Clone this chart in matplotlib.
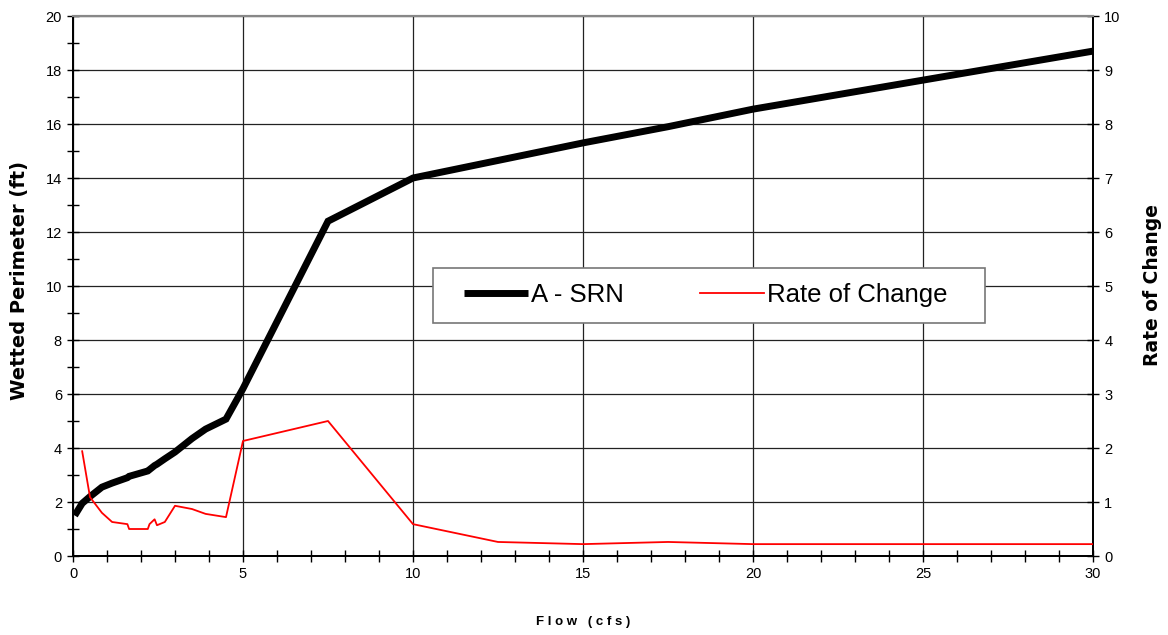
import numpy as np
import matplotlib.pyplot as plt
from matplotlib.ticker import MultipleLocator
from matplotlib.patches import Rectangle

# wetted perimeter curve
flow = [0.05, 0.27, 0.5, 0.85, 1.15, 1.6, 1.65, 2.2, 2.25, 2.4, 2.47, 2.7,
        3.0, 3.5, 3.9, 4.5, 5.0, 7.5, 10, 12.5, 15, 17.5, 20, 30]
perimeter = [1.5, 1.95, 2.2, 2.55, 2.7, 2.9, 2.95, 3.15, 3.2, 3.35, 3.4, 3.6,
             3.85, 4.35, 4.7, 5.07, 6.2, 12.4, 14.0, 14.65, 15.3, 15.9, 16.55, 18.7]

# rate of change (right axis)
rate_flow = [0.27, 0.5, 0.85, 1.15, 1.6, 1.65, 2.2, 2.25, 2.4, 2.47, 2.7,
             3.0, 3.5, 3.9, 4.5, 5.0, 7.5, 10, 12.5, 15, 17.5, 20, 30]
rate = [1.94, 1.09, 0.8, 0.63, 0.59, 0.5, 0.5, 0.59, 0.68, 0.57, 0.63,
        0.93, 0.87, 0.78, 0.72, 2.13, 2.5, 0.59, 0.26, 0.22, 0.26, 0.22, 0.22]

plt.rcParams['font.family'] = ['Liberation Sans', 'DejaVu Sans']

fig = plt.figure(figsize=(11.68, 6.35), dpi=100)
ax = fig.add_axes([0.0625, 0.1244, 0.8733, 0.8504])
ax2 = ax.twinx()

l1, = ax.plot(flow, perimeter, color='black', lw=5, solid_capstyle='butt',
              solid_joinstyle='miter', zorder=3, label='A - SRN')
l2, = ax2.plot(rate_flow, rate, color='red', lw=1.3, zorder=3, label='Rate of Change')

ax.set_xlim(0, 30)
ax.set_ylim(0, 20)
ax2.set_ylim(0, 10)

ax.xaxis.set_major_locator(MultipleLocator(5))
ax.xaxis.set_minor_locator(MultipleLocator(1))
ax.yaxis.set_major_locator(MultipleLocator(2))
ax.yaxis.set_minor_locator(MultipleLocator(1))
ax2.yaxis.set_major_locator(MultipleLocator(1))

ax.grid(True, which='major', color='#222222', lw=0.9)
ax.set_axisbelow(True)

ax.tick_params(axis='both', which='both', direction='inout', labelsize=10.5,
               colors='black', width=1)
ax.tick_params(axis='both', which='major', length=9)
ax.tick_params(axis='both', which='minor', length=8)
ax2.tick_params(axis='y', direction='inout', length=9, width=1, labelsize=10.5)

for a in (ax, ax2):
    a.spines['top'].set_color('#888888')
    a.spines['top'].set_linewidth(1.5)
    for s in ('left', 'right', 'bottom'):
        a.spines[s].set_linewidth(1.3)

ax.set_xlabel('F l o w   ( c f s )', fontsize=9.5, fontweight='bold', labelpad=25)
ax.set_ylabel('Wetted Perimeter (ft)', family='DejaVu Sans', fontsize=14,
              fontweight='heavy')
ax.yaxis.set_label_coords(-0.0435, 0.511)
ax2.set_ylabel('Rate of Change', family='DejaVu Sans', fontsize=13.5,
               fontweight='heavy', rotation=90)
ax2.yaxis.set_label_coords(1.049, 0.502)

# legend box drawn separately, legend entries placed inside it
box = Rectangle((0.3529, 0.4315), 0.5412, 0.1018, transform=ax2.transAxes,
                facecolor='white', edgecolor='#777777', lw=1.2, zorder=4)
ax2.add_patch(box)
leg = ax2.legend(handles=[l1, l2], loc='center left', bbox_to_anchor=(0.3706, 0.4833),
                 ncol=2, fontsize=18.5, frameon=False, borderpad=0,
                 handlelength=2.5, columnspacing=2.95, handletextpad=0.12)
leg.set_zorder(5)

fig.savefig('out.png', dpi=100)
